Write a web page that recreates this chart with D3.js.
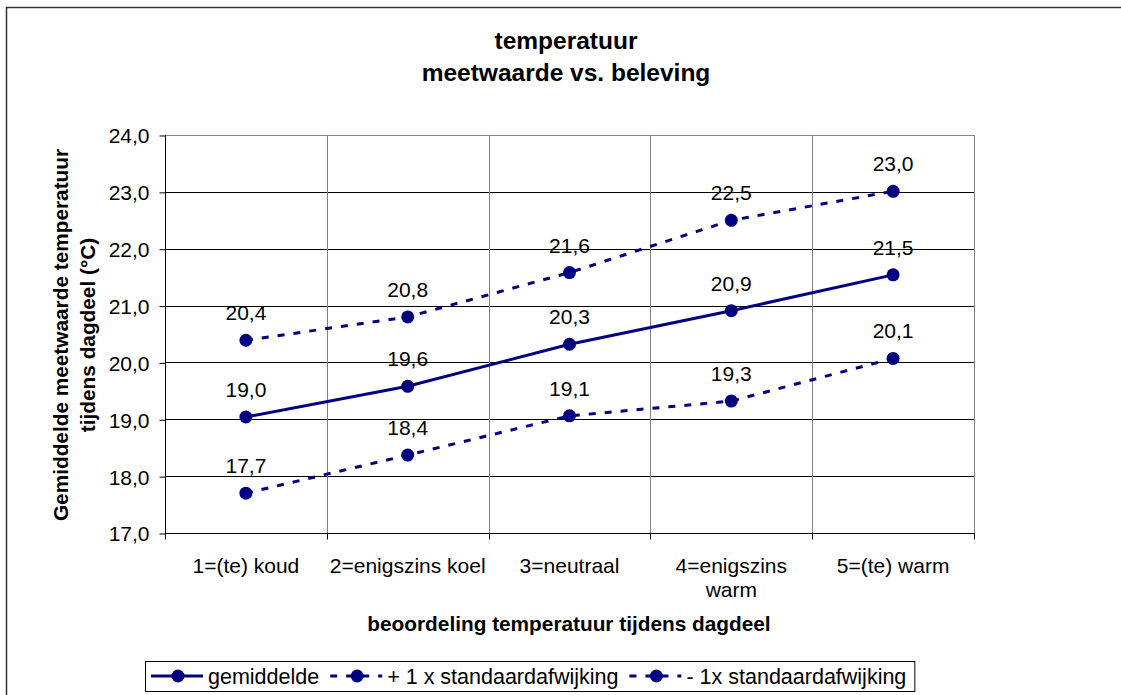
<!DOCTYPE html>
<html><head><meta charset="utf-8">
<script src="https://cdn.jsdelivr.net/npm/d3@7/dist/d3.min.js"></script>
<style>
html,body{margin:0;padding:0;background:#fff;overflow:hidden;}
svg{display:block;}
text{font-family:"Liberation Sans",Arial,sans-serif;fill:#000;}
</style></head>
<body>
<svg id="c" width="1121" height="695"></svg>
<script>
const categories = ["1=(te) koud", "2=enigszins koel", "3=neutraal", "4=enigszins\nwarm", "5=(te) warm"];
const gemiddelde = [19.04, 19.58, 20.32, 20.91, 21.54];
const plusSD = [20.39, 20.80, 21.58, 22.50, 23.01];
const minSD = [17.70, 18.37, 19.06, 19.32, 20.07];
const yTicks = [17, 18, 19, 20, 21, 22, 23, 24];
const seriesNames = ["gemiddelde", "+ 1 x standaardafwijking", "- 1x standaardafwijking"];
const titleLines = ["temperatuur", "meetwaarde vs. beleving"];
const yTitleLines = ["Gemiddelde meetwaarde temperatuur", "tijdens dagdeel (°C)"];
const xTitle = "beoordeling temperatuur tijdens dagdeel";

const series = [
  {name: seriesNames[0], values: gemiddelde, dash: null},
  {name: seriesNames[1], values: plusSD, dash: "7,9"},
  {name: seriesNames[2], values: minSD, dash: "7,9"}
];
const color = "#000080";
const fmt = v => d3.format(".1f")(v).replace(".", ",");
const FS = 21;

const svg = d3.select("#c");
const L = 165, R = 974, T = 135, B = 533;

// outer border
svg.append("rect").attr("x", 6.5).attr("y", 7.5).attr("width", 1130).attr("height", 700)
  .attr("fill", "#fff").attr("stroke", "#333").attr("stroke-width", 1.5);

const x = d3.scaleBand().domain(categories).range([L, R]).padding(0);
const y = d3.scaleLinear().domain([17, 24]).range([B, T]);
const cx = c => x(c) + x.bandwidth() / 2;

// gridlines
svg.append("g").selectAll("line").data(yTicks).join("line")
  .attr("x1", L).attr("x2", R).attr("y1", d => Math.round(y(d)) + 0.5).attr("y2", d => Math.round(y(d)) + 0.5)
  .attr("stroke", d => d === 24 ? "#888" : "#000").attr("stroke-width", 1);
svg.append("g").selectAll("line").data(categories.slice(1).concat(["__end"])).join("line")
  .attr("x1", d => d === "__end" ? R + 0.5 : Math.round(x(d)) + 0.5)
  .attr("x2", d => d === "__end" ? R + 0.5 : Math.round(x(d)) + 0.5)
  .attr("y1", T).attr("y2", B).attr("stroke", "#808080").attr("stroke-width", 1);

// y axis
const yAxis = d3.axisLeft(y).tickValues(yTicks).tickFormat(fmt).tickSize(6).tickPadding(10);
const gy = svg.append("g").attr("transform", `translate(${L + 0.5},0.5)`).call(yAxis);
gy.select(".domain").attr("stroke", "#000").attr("d", `M0,${T}V${B}`);
gy.selectAll(".tick line").attr("stroke", "#000");
gy.selectAll(".tick text").attr("font-size", FS).attr("font-family", "Liberation Sans, Arial, sans-serif").attr("fill", "#000").attr("dy", "0.35em");

// x axis
const gx = svg.append("g").attr("transform", `translate(0,${B + 0.5})`);
gx.append("line").attr("x1", L).attr("x2", R + 1).attr("stroke", "#000");
const bounds = categories.map(c => x(c)).concat([R]);
gx.selectAll("line.t").data(bounds).join("line").attr("class", "t")
  .attr("x1", d => Math.round(d) + 0.5).attr("x2", d => Math.round(d) + 0.5).attr("y1", 0).attr("y2", 6).attr("stroke", "#000");
gx.selectAll("text").data(categories).join("text")
  .attr("text-anchor", "middle").attr("font-size", FS)
  .each(function(c) {
    const t = d3.select(this);
    c.split("\n").forEach((ln, i) => {
      t.append("tspan").attr("x", cx(c)).attr("y", 39 + i * 24).text(ln);
    });
  });

// lines
const line = d3.line().x((d, i) => cx(categories[i])).y(d => y(d));
series.forEach(s => {
  svg.append("path").datum(s.values).attr("d", line).attr("fill", "none")
    .attr("stroke", color).attr("stroke-width", 3).attr("stroke-dasharray", s.dash);
});
series.forEach(s => {
  svg.append("g").selectAll("circle").data(s.values).join("circle")
    .attr("cx", (d, i) => cx(categories[i])).attr("cy", d => y(d)).attr("r", 6.5).attr("fill", color);
  svg.append("g").selectAll("text").data(s.values).join("text")
    .attr("x", (d, i) => cx(categories[i])).attr("y", d => y(d) - 20)
    .attr("text-anchor", "middle").attr("font-size", FS).text(fmt);
});

// titles
svg.append("g").selectAll("text").data(titleLines).join("text")
  .attr("x", 566).attr("y", (d, i) => 49 + i * 32).attr("text-anchor", "middle")
  .attr("font-size", 24.5).attr("font-weight", "bold").text(d => d);
svg.append("g").selectAll("text").data(yTitleLines).join("text")
  .attr("transform", (d, i) => `translate(${68 + i * 27},${335}) rotate(-90)`)
  .attr("text-anchor", "middle").attr("font-size", 20.8).attr("font-weight", "bold").text(d => d);
svg.append("text").attr("x", 569).attr("y", 631).attr("text-anchor", "middle")
  .attr("font-size", 20.8).attr("font-weight", "bold").text(xTitle);

// legend
const lg = svg.append("g");
const box = lg.append("rect").attr("y", 661.5).attr("height", 30).attr("fill", "#fff").attr("stroke", "#000").attr("stroke-width", 1);
let lx = 151;
const ly = 676;
series.forEach(s => {
  lg.append("line").attr("x1", lx).attr("x2", lx + 52).attr("y1", ly).attr("y2", ly)
    .attr("stroke", color).attr("stroke-width", 3).attr("stroke-dasharray", s.dash);
  lg.append("circle").attr("cx", lx + 27).attr("cy", ly).attr("r", 6.5).attr("fill", color);
  const t = lg.append("text").attr("x", lx + 57).attr("y", ly + 7.5).attr("font-size", 21.5).text(s.name);
  lx += 57 + t.node().getComputedTextLength() + 11;
});
box.attr("x", 145.5).attr("width", lx - 11 + 8 - 145);
</script>
</body></html>
